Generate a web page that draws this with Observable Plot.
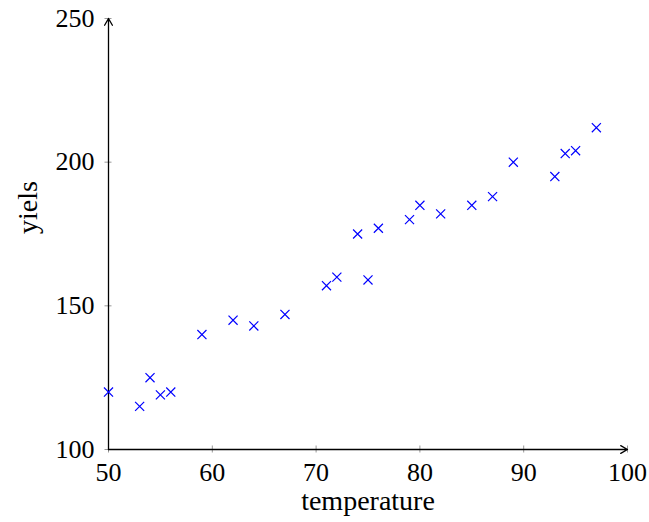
<!DOCTYPE html>
<html>
<head>
<meta charset="utf-8">
<script src="https://cdn.jsdelivr.net/npm/d3@7"></script>
<script src="https://cdn.jsdelivr.net/npm/@observablehq/plot@0.6"></script>
<style>
  body { margin: 0; background: #fff; }
</style>
</head>
<body>
<div id="chart"></div>
<script>
const temperature = [50, 53, 54, 55, 56, 59, 62, 64, 67, 71, 72, 74, 75, 76, 79, 80, 82, 85, 87, 89, 93, 94, 95, 97];
const yields      = [120, 115, 125, 119, 120, 140, 145, 143, 147, 157, 160, 175, 159, 177, 180, 185, 182, 185, 188, 200, 195, 203, 204, 212];
const xTicks = [50, 60, 70, 80, 90, 100];
const yTicks = [100, 150, 200, 250];

const data = temperature.map((t, i) => ({t, y: yields[i]}));
const font = "'Liberation Serif', 'DejaVu Serif', serif";

const chart = Plot.plot({
  width: 649,
  height: 522,
  marginLeft: 108,
  marginRight: 22,
  marginTop: 18,
  marginBottom: 73,
  style: {fontFamily: font, fontSize: "26px", background: "#fff", color: "#000"},
  x: {domain: [50, 100]},
  y: {domain: [100, 250]},
  marks: [
    // tick marks centered on axes (zero-length rules widened by negative insets)
    Plot.ruleX(xTicks, {x: d => d, y1: 100, y2: 100, insetTop: -3.5, insetBottom: -3.5, stroke: "#999", strokeWidth: 1}),
    Plot.ruleY(yTicks, {y: d => d, x1: 50, x2: 50, insetLeft: -3.5, insetRight: -3.5, stroke: "#999", strokeWidth: 1}),
    // tick labels
    Plot.axisX({ticks: xTicks, tickSize: 0, tickPadding: 13, label: null, fontSize: 26}),
    Plot.axisY({ticks: yTicks, tickSize: 0, tickPadding: 14, label: null, fontSize: 26}),
    // axes with arrows
    Plot.arrow([0], {x1: 50, y1: 100, x2: 100, y2: 100, headLength: 9, strokeWidth: 1.3, stroke: "#000"}),
    Plot.arrow([0], {x1: 50, y1: 100, x2: 50, y2: 250, headLength: 9, strokeWidth: 1.3, stroke: "#000"}),
    // points
    Plot.dot(data, {x: "t", y: "y", symbol: "times", r: 4.2, stroke: "#0000ff", strokeWidth: 1.2}),
    // axis titles
    Plot.text(["temperature"], {frameAnchor: "bottom", dy: 60, fontSize: 28, text: d => d}),
    Plot.text(["yiels"], {frameAnchor: "left", dx: -80, rotate: -90, fontSize: 28, text: d => d})
  ]
});
document.getElementById("chart").appendChild(chart);
</script>
</body>
</html>
